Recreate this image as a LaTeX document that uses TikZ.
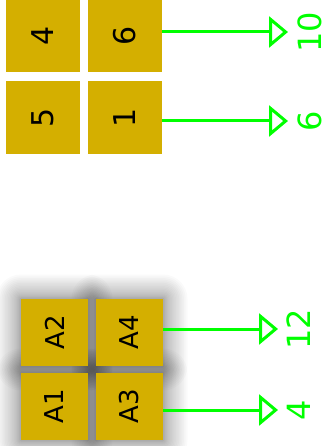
\documentclass[tikz,border=0pt]{standalone}
\usepackage{fontspec}
\usepackage{graphicx}
\setmainfont{DejaVu Sans}
\usetikzlibrary{arrows.meta,calc}
\definecolor{gold}{RGB}{212,175,0}
\definecolor{lgreen}{RGB}{0,255,0}
\tikzset{
  cell/.style={fill=gold, draw=none, minimum width=74pt, minimum height=73pt, inner sep=0pt, font=\fontsize{30}{32}\selectfont},
  smallcell/.style={fill=gold, draw=none, minimum width=67pt, minimum height=67pt, inner sep=0pt, font=\fontsize{26}{28}\selectfont},
  conn/.style={draw=lgreen, line width=3pt, -{Triangle[open, length=19pt, width=31pt, line width=3pt]}},
  val/.style={text=lgreen, font=\fontsize{32}{34}\selectfont, inner sep=0pt, anchor=west},
  shadowlayer/.style={fill=black, draw=none, opacity=0.018}
}
\begin{document}
\begin{tikzpicture}[x=1pt,y=-1pt]
\useasboundingbox (0,0) rectangle (326,446);
% top group
\node[cell] (c4) at (43,36) {\rotatebox{90}{4}};
\node[cell] (c6) at (125,36) {\rotatebox{90}{6}};
\node[cell] (c5) at (43,117.5) {\rotatebox{90}{5}};
\node[cell] (c1) at (125,117.5) {\rotatebox{90}{1}};
\coordinate (t1) at (288,32);
\coordinate (t2) at (288,121);
\draw[conn] (c6.east |- t1) -- (t1);
\draw[conn] (c1.east |- t2) -- (t2);
\node[val] (v10) at (298,32) {\rotatebox{90}{10}};
\node[val] (v6) at (298,121) {\rotatebox{90}{6}};
% bottom group: coordinates of box centres
\coordinate (p2) at (54.5,332.5);
\coordinate (p4) at (129.5,332.5);
\coordinate (p1) at (54.5,406.5);
\coordinate (p3) at (129.5,406.5);
% soft shadows
\foreach \p in {p1,p2,p3,p4}{
  \foreach \i in {1,...,20}{
    \pgfmathsetmacro{\r}{0.5+24*(\i/20)^1.5}
    \fill[shadowlayer, rounded corners=\r pt]
      ($(\p)+(-33.5-\r,-33.5-\r)$) rectangle ($(\p)+(33.5+\r,33.5+\r)$);
  }
}
\node[smallcell] (a2) at (p2) {\rotatebox{90}{A2}};
\node[smallcell] (a4) at (p4) {\rotatebox{90}{A4}};
\node[smallcell] (a1) at (p1) {\rotatebox{90}{A1}};
\node[smallcell] (a3) at (p3) {\rotatebox{90}{A3}};
\coordinate (t3) at (278,329);
\coordinate (t4) at (278,410);
\draw[conn] (a4.east |- t3) -- (t3);
\draw[conn] (a3.east |- t4) -- (t4);
\node[val] (v12) at (287,329) {\rotatebox{90}{12}};
\node[val] (v4) at (287,410) {\rotatebox{90}{4}};
\end{tikzpicture}
\end{document}
